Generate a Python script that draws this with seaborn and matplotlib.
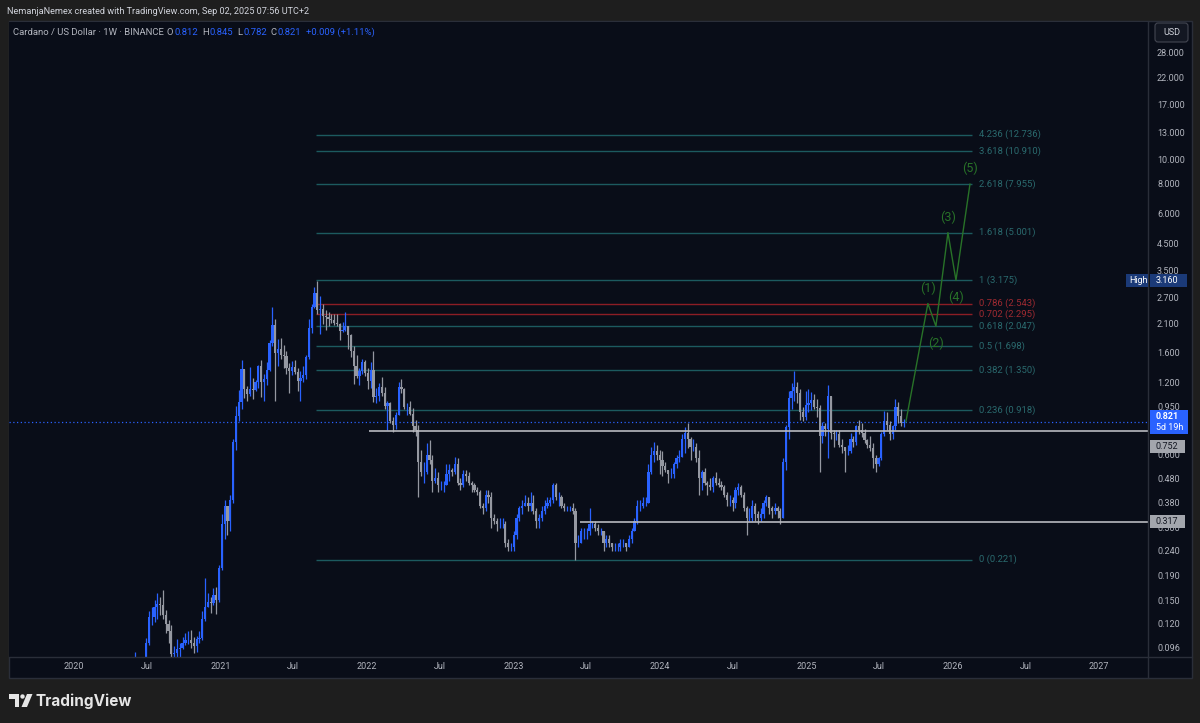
import numpy as np
import pandas as pd
import seaborn as sns
import matplotlib.pyplot as plt
import matplotlib.dates as mdates
import matplotlib.transforms as mtransforms
from matplotlib.patches import Rectangle, Polygon, Circle, FancyBboxPatch
from matplotlib.ticker import FixedLocator, FixedFormatter, FuncFormatter, NullLocator

W, H = 1200, 723

# ADA/USD weekly candles (Binance), week start = Monday
first_week = "2020-06-01"
first_open = 0.077

closes = [
    # 2020
    0.081, 0.078, 0.077, 0.073, 0.100,
    0.128, 0.128, 0.140, 0.145,
    0.143, 0.130, 0.120, 0.112, 0.090,
    0.091, 0.094, 0.095, 0.100,
    0.103, 0.103, 0.100, 0.097,
    0.104, 0.105, 0.125, 0.140, 0.148,
    0.146, 0.158, 0.150, 0.205,
    # 2021
    0.31, 0.37, 0.32, 0.39,
    0.68, 0.87, 0.99, 1.36,
    1.13, 1.07, 1.12, 1.11, 1.20,
    1.40, 1.20, 1.24, 1.35,
    1.75, 2.08, 1.58, 1.65, 1.55,
    1.54, 1.38, 1.34, 1.39,
    1.32, 1.22, 1.25, 1.28,
    1.53, 2.02, 2.45, 2.81, 2.40,
    2.42, 2.25, 2.23, 2.20,
    2.18, 2.11, 2.10, 1.95,
    1.98, 2.05, 1.88, 1.62, 1.40,
    1.27, 1.33, 1.46, 1.31,
    # 2022
    1.21, 1.35, 1.04, 1.05, 1.15,
    1.08, 0.96, 0.98, 0.83,
    0.80, 0.88, 1.15, 1.12,
    0.95, 0.95, 0.89, 0.79,
    0.76, 0.56, 0.51, 0.51, 0.60,
    0.57, 0.47, 0.48, 0.45,
    0.45, 0.45, 0.50, 0.52,
    0.51, 0.55, 0.46, 0.45, 0.50,
    0.49, 0.46, 0.45, 0.43,
    0.42, 0.37, 0.36, 0.41, 0.40,
    0.33, 0.32, 0.31, 0.31,
    0.31, 0.26, 0.25, 0.25,
    # 2023
    0.28, 0.33, 0.36, 0.37, 0.38,
    0.37, 0.38, 0.35, 0.32,
    0.33, 0.35, 0.37, 0.38,
    0.39, 0.45, 0.40, 0.40,
    0.37, 0.36, 0.36, 0.36, 0.35,
    0.26, 0.26, 0.29, 0.29,
    0.29, 0.31, 0.31, 0.30, 0.29,
    0.29, 0.26, 0.27, 0.26,
    0.25, 0.25, 0.25, 0.26,
    0.26, 0.25, 0.27, 0.29, 0.32,
    0.37, 0.37, 0.38, 0.38,
    0.51, 0.60, 0.62, 0.60,
    # 2024
    0.57, 0.54, 0.52, 0.50, 0.50,
    0.55, 0.58, 0.59, 0.70,
    0.74, 0.70, 0.65, 0.65,
    0.58, 0.48, 0.51, 0.46, 0.45,
    0.44, 0.48, 0.46, 0.45,
    0.44, 0.41, 0.39, 0.39,
    0.38, 0.43, 0.44, 0.41, 0.36,
    0.33, 0.33, 0.37, 0.34,
    0.33, 0.34, 0.38, 0.40, 0.36,
    0.35, 0.36, 0.35, 0.33,
    0.56, 0.78, 1.03, 1.10,
    1.15, 1.08, 0.90, 0.86, 0.97,
    # 2025
    0.98, 1.01, 0.95, 0.94,
    0.72, 0.79, 0.77, 1.05,
    0.74, 0.73, 0.73, 0.66, 0.65,
    0.62, 0.62, 0.70, 0.68,
    0.79, 0.76, 0.74, 0.69,
    0.66, 0.64, 0.58, 0.55, 0.58,
    0.73, 0.83, 0.80, 0.73,
    0.79, 0.95, 0.87, 0.812,
    0.821,
]

highs = [
    # 2020
    0.092, 0.086, 0.082, 0.080, 0.105,
    0.135, 0.141, 0.150, 0.160,
    0.155, 0.166, 0.137, 0.124, 0.118,
    0.097, 0.104, 0.100, 0.106,
    0.110, 0.112, 0.113, 0.106,
    0.107, 0.112, 0.135, 0.185, 0.160,
    0.155, 0.168, 0.171, 0.210,
    # 2021
    0.34, 0.39, 0.37, 0.41,
    0.70, 0.96, 1.11, 1.48,
    1.36, 1.16, 1.39, 1.25, 1.23,
    1.42, 1.48, 1.30, 1.45,
    1.80, 2.46, 2.20, 1.81, 1.83,
    1.71, 1.62, 1.44, 1.47,
    1.48, 1.37, 1.33, 1.40,
    1.55, 2.19, 2.52, 2.97, 3.16,
    2.73, 2.52, 2.40, 2.35,
    2.30, 2.31, 2.29, 2.12,
    2.13, 2.34, 2.06, 1.90, 1.70,
    1.55, 1.38, 1.50, 1.49,
    # 2022
    1.38, 1.45, 1.62, 1.14, 1.19,
    1.26, 1.15, 1.00, 0.99,
    0.86, 0.90, 1.20, 1.24,
    1.14, 0.98, 1.00, 0.94,
    0.84, 0.80, 0.63, 0.56, 0.67,
    0.69, 0.60, 0.53, 0.51,
    0.47, 0.47, 0.55, 0.55,
    0.53, 0.59, 0.58, 0.48, 0.52,
    0.52, 0.51, 0.47, 0.46,
    0.44, 0.43, 0.38, 0.43, 0.43,
    0.42, 0.34, 0.33, 0.33,
    0.33, 0.32, 0.27, 0.26,
    # 2023
    0.29, 0.34, 0.37, 0.39, 0.41,
    0.40, 0.42, 0.41, 0.36,
    0.34, 0.37, 0.39, 0.40,
    0.40, 0.46, 0.46, 0.42,
    0.41, 0.38, 0.37, 0.37, 0.38,
    0.36, 0.28, 0.30, 0.30,
    0.30, 0.36, 0.32, 0.32, 0.31,
    0.30, 0.29, 0.28, 0.28,
    0.26, 0.26, 0.26, 0.27,
    0.27, 0.26, 0.28, 0.30, 0.33,
    0.39, 0.39, 0.40, 0.40,
    0.55, 0.65, 0.68, 0.66,
    # 2024
    0.63, 0.62, 0.56, 0.52, 0.53,
    0.56, 0.60, 0.63, 0.73,
    0.78, 0.81, 0.71, 0.70,
    0.67, 0.63, 0.52, 0.53, 0.47,
    0.48, 0.49, 0.51, 0.48,
    0.47, 0.45, 0.42, 0.41,
    0.40, 0.44, 0.46, 0.45, 0.42,
    0.37, 0.36, 0.39, 0.38,
    0.35, 0.36, 0.39, 0.41, 0.40,
    0.37, 0.38, 0.37, 0.36,
    0.58, 0.80, 1.10, 1.19,
    1.33, 1.20, 1.12, 0.95, 1.10,
    # 2025
    1.12, 1.09, 1.07, 1.02,
    0.97, 0.82, 0.81, 1.17,
    1.05, 0.76, 0.76, 0.76, 0.70,
    0.65, 0.66, 0.74, 0.72,
    0.80, 0.84, 0.81, 0.77,
    0.70, 0.72, 0.67, 0.60, 0.59,
    0.75, 0.91, 0.90, 0.83,
    0.80, 1.02, 0.99, 0.93,
    0.845,
]

lows = [
    # 2020
    0.076, 0.074, 0.073, 0.071, 0.072,
    0.098, 0.118, 0.122, 0.125,
    0.130, 0.126, 0.110, 0.100, 0.080,
    0.085, 0.086, 0.082, 0.094,
    0.098, 0.099, 0.095, 0.091,
    0.092, 0.100, 0.103, 0.123, 0.140,
    0.133, 0.143, 0.131, 0.148,
    # 2021
    0.20, 0.27, 0.28, 0.29,
    0.38, 0.63, 0.83, 0.93,
    1.03, 1.00, 1.05, 1.02, 1.10,
    1.14, 1.04, 1.00, 1.17,
    1.33, 1.70, 1.00, 1.40, 1.50,
    1.38, 1.30, 1.08, 1.29,
    1.30, 1.10, 1.00, 1.20,
    1.24, 1.50, 1.92, 2.43, 2.29,
    1.90, 2.09, 1.98, 2.05,
    2.12, 2.08, 2.05, 1.80,
    1.94, 1.96, 1.65, 1.52, 1.18,
    1.25, 1.17, 1.30, 1.27,
    # 2022
    1.13, 1.14, 0.99, 0.98, 1.00,
    1.05, 0.93, 0.76, 0.81,
    0.75, 0.77, 0.88, 1.08,
    0.93, 0.88, 0.88, 0.75,
    0.72, 0.40, 0.49, 0.46, 0.50,
    0.55, 0.42, 0.46, 0.42,
    0.43, 0.42, 0.45, 0.47,
    0.49, 0.50, 0.45, 0.43, 0.44,
    0.47, 0.45, 0.42, 0.42,
    0.41, 0.36, 0.34, 0.35, 0.38,
    0.30, 0.31, 0.29, 0.30,
    0.30, 0.25, 0.24, 0.24,
    # 2023
    0.24, 0.27, 0.32, 0.34, 0.37,
    0.35, 0.35, 0.34, 0.30,
    0.30, 0.32, 0.34, 0.36,
    0.37, 0.38, 0.39, 0.37,
    0.36, 0.35, 0.35, 0.35, 0.34,
    0.221, 0.25, 0.26, 0.27,
    0.27, 0.28, 0.30, 0.29, 0.28,
    0.28, 0.24, 0.25, 0.25,
    0.24, 0.24, 0.24, 0.24,
    0.25, 0.24, 0.25, 0.26, 0.29,
    0.31, 0.35, 0.36, 0.37,
    0.38, 0.50, 0.56, 0.57,
    # 2024
    0.50, 0.49, 0.51, 0.46, 0.48,
    0.48, 0.53, 0.56, 0.59,
    0.61, 0.64, 0.57, 0.62,
    0.56, 0.41, 0.43, 0.45, 0.41,
    0.43, 0.42, 0.45, 0.44,
    0.43, 0.40, 0.37, 0.37,
    0.35, 0.36, 0.41, 0.40, 0.35,
    0.28, 0.32, 0.32, 0.32,
    0.31, 0.32, 0.33, 0.37, 0.34,
    0.33, 0.34, 0.33, 0.31,
    0.33, 0.52, 0.70, 0.93,
    1.00, 0.98, 0.84, 0.83, 0.84,
    # 2025
    0.90, 0.92, 0.93, 0.86,
    0.51, 0.67, 0.72, 0.58,
    0.70, 0.65, 0.69, 0.65, 0.61,
    0.51, 0.60, 0.61, 0.65,
    0.66, 0.73, 0.71, 0.67,
    0.64, 0.62, 0.53, 0.51, 0.54,
    0.57, 0.72, 0.76, 0.69,
    0.70, 0.76, 0.81, 0.79,
    0.782,
]

# fib extension drawn from the 2021 high to the 2023 low
fib_ratios = [4.236, 3.618, 2.618, 1.618, 1, 0.786, 0.702, 0.618, 0.5, 0.382, 0.236, 0]
fib_prices = [12.736, 10.910, 7.955, 5.001, 3.175, 2.543, 2.295, 2.047, 1.698, 1.350, 0.918, 0.221]
fib_red = [0.786, 0.702]
fib_start, fib_end = "2021-08-27", "2026-02-19"

support_levels = [0.752, 0.317]
support_starts = ["2022-01-06", "2023-06-16"]

# projected elliott wave count
wave_dates = ["2025-09-06", "2025-10-31", "2025-11-20", "2025-12-20", "2026-01-09", "2026-02-13"]
wave_prices = [0.821, 2.543, 2.047, 5.001, 3.175, 7.955]
wave_labels = ["(1)", "(2)", "(3)", "(4)", "(5)"]

# 0.750 sits under the price tag, so it is left out
price_ticks = [28, 22, 17, 13, 10, 8, 6, 4.5, 3.5, 2.7, 2.1, 1.6, 1.2, 0.95,
               0.6, 0.48, 0.38, 0.3, 0.24, 0.19, 0.15, 0.12, 0.096]
last_price = 0.821
ath_high = 3.160

header_parts = [("Cardano / US Dollar · 1W · BINANCE", "grey", 3), ("O", "grey", 1),
                ("0.812", "blue", 4), ("H", "grey", 1), ("0.845", "blue", 4),
                ("L", "grey", 1), ("0.782", "blue", 4), ("C", "grey", 1),
                ("0.821", "blue", 4), ("+0.009 (+1.11%)", "blue", 0)]

UP = "#2962ff"
DOWN = "#9598a1"
BG_OUT = "#1e1e1e"
BG = "#090d18"
EDGE = "#2a2e39"
AXTXT = "#b2b5be"
TEAL = "#1c5a5f"
TEAL_TXT = "#2a6a6e"
RED = "#8c1d25"
RED_TXT = "#9e2a31"
GREEN = "#287228"
SUPPORT = "#b8b9bf"

sns.set_theme(style="dark")
plt.rcParams["font.family"] = ["Roboto", "DejaVu Sans"]

fig = plt.figure(figsize=(W / 100, H / 100), dpi=100, facecolor=BG_OUT)
pix = mtransforms.Affine2D().scale(1, -1).translate(0, H)   # top-left pixel coords

fig.add_artist(Rectangle((9, 21), 1183, 657, transform=pix, fc=BG, ec=EDGE, lw=1, zorder=-1))

ax = fig.add_axes([9 / W, (H - 657) / H, 1139 / W, 635 / H])
ax.set_facecolor(BG)
for s in ax.spines.values():
    s.set_visible(False)
ax.set_yscale("log")
ax.grid(False)

# candles
weeks = mdates.date2num(pd.date_range(first_week, periods=len(closes), freq="7D"))
closes = np.asarray(closes)
opens = np.r_[first_open, closes[:-1]]
highs = np.maximum(np.asarray(highs), np.maximum(opens, closes))
lows = np.minimum(np.asarray(lows), np.minimum(opens, closes))
up = closes >= opens

for mask, col in [(up, UP), (~up, DOWN)]:
    ax.vlines(weeks[mask], lows[mask], highs[mask], color=col, lw=0.9, zorder=3)
    lo = np.minimum(opens, closes)[mask]
    hi = np.maximum(opens, closes)[mask]
    ax.bar(weeks[mask], hi - lo, bottom=lo, width=5.5, color=col, lw=0, zorder=3)

x_left = mdates.date2num(pd.Timestamp("2019-07-23"))
x_right = mdates.date2num(pd.Timestamp("2027-05-03"))

# fib levels
fs, fe = mdates.date2num(pd.to_datetime([fib_start, fib_end]))
for r, p in zip(fib_ratios, fib_prices):
    red = r in fib_red
    ax.hlines(p, fs, fe, color=RED if red else TEAL, lw=1, zorder=1)
    ax.annotate(f"{r:g} ({p:.3f})", (fe, p), xytext=(5, 0), textcoords="offset points",
                va="center", ha="left", fontsize=6.8, color=RED_TXT if red else TEAL_TXT)

# support lines
for lvl, st in zip(support_levels, support_starts):
    ax.hlines(lvl, mdates.date2num(pd.Timestamp(st)), x_right, color=SUPPORT, lw=1.2, zorder=4)

# current price line
ax.axhline(last_price, color=UP, lw=0.9, ls=(0, (1, 2)), zorder=2)

# wave projection
wx = mdates.date2num(pd.to_datetime(wave_dates))
sns.lineplot(x=wx, y=wave_prices, ax=ax, color=GREEN, lw=1, sort=False, estimator=None, zorder=6)
for i, lab in enumerate(wave_labels):
    dy = 11 if i % 2 == 0 else -12
    ax.annotate(lab, (wx[i + 1], wave_prices[i + 1]), xytext=(0, dy), textcoords="offset points",
                ha="center", va="center", color=GREEN, fontsize=9)

ax.set_xlabel("")
ax.set_ylabel("")
ax.set_xlim(x_left, x_right)
ax.set_ylim(0.0873, 37.28)

# axes ticks
ax.yaxis.tick_right()
ax.yaxis.set_major_locator(FixedLocator(price_ticks))
ax.yaxis.set_minor_locator(NullLocator())
ax.yaxis.set_major_formatter(FuncFormatter(lambda v, _: f"{v:.3f}"))
ax.tick_params(axis="y", which="both", length=0, pad=6.5, labelsize=6.5, labelcolor=AXTXT)

tick_dates, tick_labels = [], []
for yr in range(2020, 2028):
    tick_dates += [pd.Timestamp(f"{yr}-01-01"), pd.Timestamp(f"{yr}-07-01")]
    tick_labels += [str(yr), "Jul"]
tick_dates, tick_labels = tick_dates[:-1], tick_labels[:-1]
ax.xaxis.set_major_locator(FixedLocator(mdates.date2num(tick_dates)))
ax.xaxis.set_major_formatter(FixedFormatter(tick_labels))
ax.xaxis.set_minor_locator(NullLocator())
ax.tick_params(axis="x", which="both", length=0, pad=3.5, labelsize=6.5, labelcolor=AXTXT)

# separators
fig.add_artist(plt.Line2D([1148, 1148], [21, 678], transform=pix, color=EDGE, lw=1))
fig.add_artist(plt.Line2D([9, 1192], [657, 657], transform=pix, color=EDGE, lw=1))


def ypix(price):
    return H - ax.transData.transform((0, price))[1]


def tag(price, lines, fc, tc, dy=0, x0=1150, x1=1188, bold=False):
    yc = ypix(price) + dy
    h = 11 * len(lines) + 2
    fig.add_artist(Rectangle((x0, yc - h / 2), x1 - x0, h, transform=pix, fc=fc, ec="none", zorder=5))
    for i, s in enumerate(lines):
        fig.text(x0 + 6, yc - h / 2 + 6.5 + 11 * i, s, transform=pix, color=tc, fontsize=6.5,
                 va="center", ha="left", fontweight="bold" if (bold and i == 0) else "normal", zorder=6)


tag(last_price, ["0.821", "5d 19h"], UP, "white", bold=True)
tag(support_levels[0], ["0.752"], "#a3a6ad", "#131722", dy=15, x1=1185)
tag(support_levels[1], ["0.317"], "#a3a6ad", "#131722", x1=1185)
tag(ath_high, ["3.160"], "#1b3a78", "white", x1=1187)
yh = ypix(ath_high)
fig.add_artist(Rectangle((1126, yh - 6.5), 22, 13, transform=pix, fc="#1b3a78", ec="none", zorder=5))
fig.text(1129, yh, "High", transform=pix, color="white", fontsize=6.5, va="center", zorder=6)

# USD button
fig.add_artist(FancyBboxPatch((1155, 23), 33, 19, boxstyle="round,pad=0,rounding_size=3",
                              transform=pix, fc="#131722", ec="#434651", lw=0.8, zorder=5))
fig.text(1171.5, 32.5, "USD", transform=pix, color="#d1d4dc", fontsize=6.5,
         ha="center", va="center", zorder=6)

# header texts
fig.text(7, 11, "NemanjaNemex created with TradingView.com, Sep 02, 2025 07:56 UTC+2",
         transform=pix, color="#d1d4dc", fontsize=6.6, va="center")
r = fig.canvas.get_renderer()
x = 13
for s, c, gap in header_parts:
    t = fig.text(x, 35, s, transform=pix, color=UP if c == "blue" else AXTXT,
                 fontsize=6.8, va="baseline", zorder=6)
    x = t.get_window_extent(r).x1 + gap

# TradingView logo
fig.add_artist(Polygon([(9, 694), (19, 694), (19, 707), (14.5, 707), (14.5, 698.5), (9, 698.5)],
                       closed=True, transform=pix, fc="#e6e6e6", ec="none"))
fig.add_artist(Circle((22.5, 696.5), 2.2, transform=pix, fc="#e6e6e6", ec="none"))
fig.add_artist(Polygon([(27, 694), (32.5, 694), (27, 707), (21.5, 707)], closed=True,
                       transform=pix, fc="#e6e6e6", ec="none"))
fig.text(36, 701, "TradingView", transform=pix, color="#e6e6e6", fontsize=11,
         fontweight="bold", family=["Inter", "DejaVu Sans"], va="center")

fig.savefig("out.png", dpi=100, facecolor=BG_OUT)
